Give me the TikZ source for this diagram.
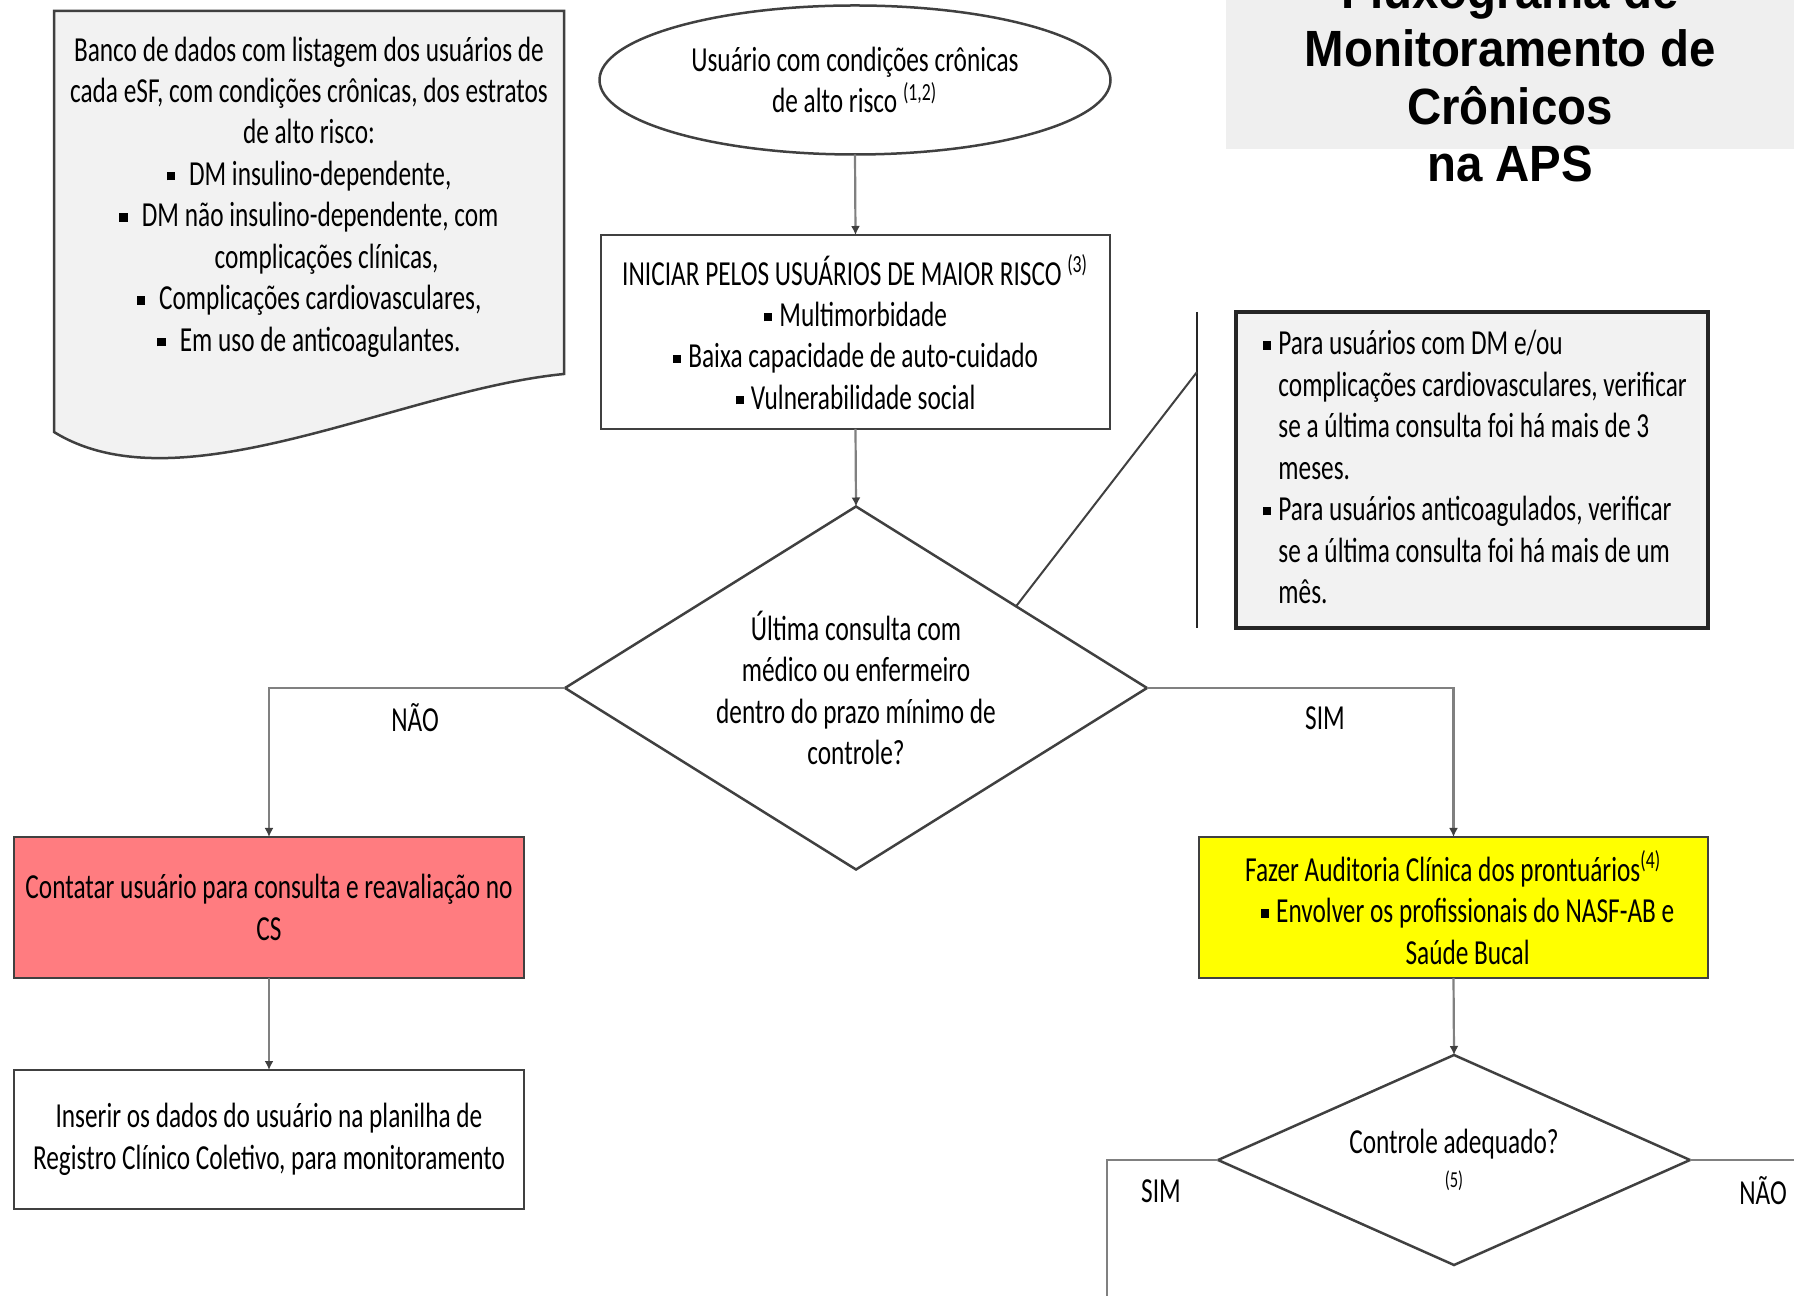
\documentclass[tikz,border=0pt]{standalone}
\usepackage{fontspec}
\setmainfont{Carlito}[FakeStretch=0.72]
\newfontfamily\titlefont{Liberation Sans}[FakeStretch=0.93]
\usetikzlibrary{shapes.geometric,calc,arrows.meta}
\definecolor{docgray}{HTML}{F2F2F2}
\definecolor{titlegray}{HTML}{EFEFEF}
\definecolor{redfill}{HTML}{FF7C80}
\definecolor{yelfill}{HTML}{FFFF00}
\definecolor{edgecol}{HTML}{404040}
\definecolor{conncol}{HTML}{808080}
\newcommand{\bsq}{\rule[0.3ex]{0.5ex}{0.5ex}}
\begin{document}
\begin{tikzpicture}[x=0.1mm,y=-0.1mm,
  every node/.style={inner sep=0pt, outer sep=0pt, font=\fontsize{10}{11.8}\selectfont},
  boxst/.style={draw=edgecol, line width=0.25mm, rectangle, align=center},
  decst/.style={diamond, draw=edgecol, line width=0.25mm, align=center},
  connst/.style={draw=conncol, line width=0.22mm},
  arr/.style={connst, -{Latex[length=0.9mm,width=0.9mm,color=edgecol]}},
  lbl/.style={font=\fontsize{10}{11.8}\selectfont}
]
\useasboundingbox (0,0) rectangle (1794,1296);

% title
\fill[titlegray] (1226,0) rectangle (1794,149);
\node[font=\titlefont\bfseries\fontsize{14.5}{16.4}\selectfont, align=center] (title) at (1510,77)
  {Fluxograma de\\Monitoramento de\\Crônicos\\na APS};

% database document shape
\draw[draw=edgecol, fill=docgray, line width=0.25mm]
  (54,11) -- (564,11) -- (564,374) .. controls (400,390) and (180,510) .. (54,432) -- cycle;
\node[align=center] (dbtext) at (309,197)
  {Banco de dados com listagem dos usuários de\\
   cada eSF, com condições crônicas, dos estratos\\
   de alto risco:\\
   \bsq\hspace{4pt}DM insulino-dependente,\\
   \bsq\hspace{4pt}DM não insulino-dependente, com\\
   \hspace*{10pt}complicações clínicas,\\
   \bsq\hspace{4pt}Complicações cardiovasculares,\\
   \bsq\hspace{4pt}Em uso de anticoagulantes.};

% start ellipse
\node[ellipse, draw=edgecol, line width=0.25mm, minimum width=51.1mm, minimum height=14.9mm, align=center]
  (start) at (855,80) {Usuário com condições crônicas\\de alto risco \textsuperscript{(1,2)}};

% risk box
\node[boxst, minimum width=50.9mm, minimum height=19.4mm] (risk) at (855.5,332)
  {INICIAR PELOS USUÁRIOS DE MAIOR RISCO \textsuperscript{(3)}\\
   \bsq\hspace{2pt}Multimorbidade\\
   \bsq\hspace{2pt}Baixa capacidade de auto-cuidado\\
   \bsq\hspace{2pt}Vulnerabilidade social};

% decision 1
\node[decst, aspect=1.6, minimum width=58.2mm, minimum height=36.3mm] (dec1) at (856,688)
  {Última consulta com\\médico ou enfermeiro\\dentro do prazo mínimo de\\controle?};

% note box
\node[draw=black!85, line width=0.35mm, fill=docgray, rectangle, minimum width=47.2mm, minimum height=31.6mm]
  (note) at (1472,470) {};
\node[align=left, anchor=west] (notetext) at (1263,467)
  {\bsq\hspace{2pt}Para usuários com DM e/ou\\
   \hphantom{\bsq\hspace{2pt}}complicações cardiovasculares, verificar\\
   \hphantom{\bsq\hspace{2pt}}se a última consulta foi há mais de 3\\
   \hphantom{\bsq\hspace{2pt}}meses.\\
   \bsq\hspace{2pt}Para usuários anticoagulados, verificar\\
   \hphantom{\bsq\hspace{2pt}}se a última consulta foi há mais de um\\
   \hphantom{\bsq\hspace{2pt}}mês.};
\coordinate (brT) at (1197,312);
\coordinate (brB) at (1197,628);
\coordinate (brM) at (1197,372);
\draw[draw=black!85, line width=0.2mm] (brT) -- (brB);
\draw[draw=edgecol, line width=0.2mm] ($(dec1.north)!0.55!(dec1.east)$) -- (brM);

% branch labels
\node[lbl] (nao1) at (415,718) {NÃO};
\node[lbl] (sim1) at (1325,718) {SIM};

% left branch
\node[boxst, fill=redfill, minimum width=51mm, minimum height=14.1mm] (contact) at (269,907.5)
  {Contatar usuário para consulta e reavaliação no\\CS};
\node[boxst, minimum width=51mm, minimum height=13.9mm] (insert) at (269,1139.5)
  {Inserir os dados do usuário na planilha de\\Registro Clínico Coletivo, para monitoramento};

% right branch
\node[boxst, fill=yelfill, minimum width=50.9mm, minimum height=14.1mm] (audit) at (1453.5,907.5)
  {Fazer Auditoria Clínica dos prontuários\textsuperscript{(4)}\\
   \hspace*{8pt}\bsq\hspace{2pt}Envolver os profissionais do NASF-AB e\\
   \hspace*{8pt}Saúde Bucal};
\node[decst, aspect=2.2, minimum width=47.2mm, minimum height=21mm] (dec2) at (1454,1160)
  {Controle adequado?\\[-2pt]{\fontsize{6.5}{7}\selectfont (5)}};
\node[lbl] (sim2) at (1161,1191) {SIM};
\node[lbl] (nao2) at (1763,1191) {NÃO};
\coordinate (simEnd) at (1107,1330);
\coordinate (naoEnd) at (1830,1160);

% connectors
\draw[arr] (start.south) -- (risk.north);
\draw[arr] (risk.south) -- (dec1.north);
\draw[arr] (dec1.west) -| (contact.north);
\draw[arr] (dec1.east) -| (audit.north);
\draw[arr] (contact.south) -- (insert.north);
\draw[arr] (audit.south) -- (dec2.north);
\draw[connst] (dec2.west) -| (simEnd);
\draw[connst] (dec2.east) -- (naoEnd);
\end{tikzpicture}
\end{document}
